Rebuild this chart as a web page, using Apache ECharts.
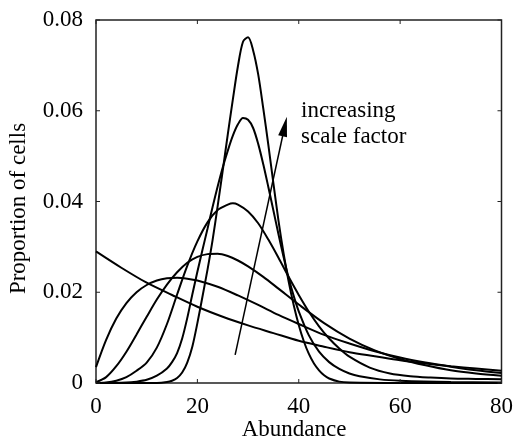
<!DOCTYPE html>
<html>
<head>
<meta charset="utf-8">
<script src="https://cdn.jsdelivr.net/npm/echarts@6/dist/echarts.min.js"></script>
<style>
html,body{margin:0;padding:0;background:#fff;}
#chart{width:516px;height:442px;}
</style>
</head>
<body>
<div id="chart"></div>
<script>
// ---- data ----
const xTicks = [0, 20, 40, 60, 80];
const yTicks = [0, 0.02, 0.04, 0.06, 0.08];

const xA = [0,5,10,15,20,25,30,35,40,45,50,55,60,65,70,75,80];
const yA = [0.0290,0.0254,0.0221,0.0194,0.0168,0.0146,0.0127,0.0110,0.0093,0.0080,0.0068,0.0059,0.0050,0.0043,0.0037,0.0032,0.0027];

const xB = [0,2,4,6,8,10,12,14,16,18,20,24,28,32,36,40,45,50,55,60,65,70,75,80];
const yB = [0.0035,0.0095,0.0142,0.0176,0.0200,0.0216,0.0226,0.0231,0.0232,0.0230,0.0226,0.0212,0.0193,0.0172,0.0150,0.0130,0.0106,0.0087,0.0070,0.0056,0.0045,0.0036,0.0028,0.0022];

const xC = [0,2,4,6,8,10,12,14,16,18,20,22,24,26,28,30,33,36,40,45,50,55,60,65,70,75,80];
const yC = [0.0002,0.0013,0.0037,0.0069,0.0107,0.0146,0.0184,0.0217,0.0244,0.0265,0.0278,0.0284,0.0285,0.0280,0.0270,0.0257,0.0234,0.0208,0.0173,0.0132,0.0098,0.0072,0.0053,0.0039,0.0028,0.0021,0.0016];

const xD = [0,2,4,6,8,10,12,14,16,18,20,22,24,26,27,28,30,32,34,36,38,40,42,44,46,48,50,54,58,62,66,70,75,80];
const yD = [0,0.0001,0.0005,0.0013,0.0027,0.0045,0.0078,0.0130,0.0195,0.0258,0.0312,0.0354,0.0381,0.0393,0.0396,0.0393,0.0378,0.0352,0.0316,0.0276,0.0234,0.0194,0.0157,0.0125,0.0098,0.0076,0.0058,0.0034,0.0021,0.0015,0.0012,0.0010,0.0009,0.0008];

const xE = [0,6,8,10,12,14,15,16,17,18,19,20,21,22,23,24,25,26,27,28,29,30,31,32,33,34,35,36,37,38,39,40,42,44,46,48,50,52,56,60,70,80];
const yE = [0,0.0001,0.0003,0.0007,0.0016,0.0032,0.0046,0.0066,0.0098,0.0143,0.0195,0.0245,0.0293,0.0340,0.0388,0.0433,0.0475,0.0512,0.0545,0.0570,0.0584,0.0580,0.0562,0.0527,0.0482,0.0432,0.0380,0.0328,0.0278,0.0232,0.0192,0.0158,0.0105,0.0069,0.0046,0.0031,0.0021,0.0015,0.0008,0.0005,0.0002,0.0001];

const xF = [0,12,14,15,16,17,18,19,20,21,22,23,24,25,26,27,28,29,30,31,32,33,34,35,36,37,38,39,40,41,42,43,44,45,46,48,50,60,70,80];
const yF = [0,0,0.0002,0.0005,0.0011,0.0023,0.0045,0.0080,0.0132,0.0190,0.0250,0.0315,0.0390,0.0468,0.0548,0.0625,0.0698,0.0752,0.0762,0.0733,0.0680,0.0605,0.0525,0.0440,0.0358,0.0286,0.0224,0.0172,0.0128,0.0092,0.0064,0.0043,0.0028,0.0017,0.0010,0.0003,0.0001,0,0,0];

// annotation arrow (data coordinates: from -> to)
const arrowFrom = [27.45, 0.0062];
const arrowTo = [37.65, 0.0587];

const annotationLines = ['increasing', 'scale factor'];
const xName = 'Abundance';
const yName = 'Proportion of cells';

// ---- chart ----
const FONT = '"Liberation Serif", "Times New Roman", serif';
const pairs = (xs, ys) => xs.map((x, i) => [x, ys[i]]);
const curves = [[xA, yA], [xB, yB], [xC, yC], [xD, yD], [xE, yE], [xF, yF]];
const xMin = xTicks[0], xMax = xTicks[xTicks.length - 1];
const yMin = yTicks[0], yMax = yTicks[yTicks.length - 1];
const TICK = 4;

const chart = echarts.init(document.getElementById('chart'), null, {renderer: 'canvas'});

const labelStyle = {fontFamily: FONT, fontSize: 23, color: '#000'};

function tickSeries(kind) {
  const data = kind === 'x' ? xTicks.map(v => [v, yMin]) : yTicks.map(v => [xMin, v]);
  return {
    type: 'custom', xAxisIndex: 0, yAxisIndex: 0, silent: true, z: 5, clip: false,
    data: data,
    renderItem: function (params, api) {
      const v = api.value(kind === 'x' ? 0 : 1);
      let a, b, lines;
      if (kind === 'x') {
        a = api.coord([v, yMin]); b = api.coord([v, yMax]);
        lines = [[a[0], a[1], a[0], a[1] - TICK], [b[0], b[1], b[0], b[1] + TICK]];
      } else {
        a = api.coord([xMin, v]); b = api.coord([xMax, v]);
        lines = [[a[0], a[1], a[0] + TICK, a[1]], [b[0], b[1], b[0] - TICK, b[1]]];
      }
      return {type: 'group', children: lines.map(l => ({
        type: 'line', shape: {x1: l[0], y1: l[1], x2: l[2], y2: l[3]},
        style: {stroke: '#222', lineWidth: 1}
      }))};
    }
  };
}

const option = {
  animation: false,
  backgroundColor: '#fff',
  grid: {left: 96, top: 20, width: 408, height: 363, containLabel: false,
         show: true, borderColor: '#222', borderWidth: 1.5, backgroundColor: 'transparent'},
  xAxis: {type: 'value', min: xMin, max: xMax, interval: xTicks[1] - xTicks[0],
     position: 'bottom', axisLine: {show: false}, axisTick: {show: false}, splitLine: {show: false},
     axisLabel: Object.assign({margin: 12}, labelStyle)},
  yAxis: {type: 'value', min: yMin, max: yMax, interval: yTicks[1] - yTicks[0],
     position: 'left', axisLine: {show: false}, axisTick: {show: false}, splitLine: {show: false},
     axisLabel: Object.assign({margin: 13, formatter: v => (v === 0 ? '0' : v.toFixed(2))}, labelStyle)},
  series: curves.map(([xs, ys]) => ({
    type: 'line', data: pairs(xs, ys), showSymbol: false, symbol: 'none', smooth: 0.3,
    lineStyle: {color: '#000', width: 2}, silent: true, z: 3
  })).concat([tickSeries('x'), tickSeries('y'), {
    type: 'custom', silent: true, z: 4,
    data: [[arrowFrom[0], arrowFrom[1], arrowTo[0], arrowTo[1]]],
    encode: {x: [0, 2], y: [1, 3]},
    renderItem: function (params, api) {
      const p0 = api.coord([api.value(0), api.value(1)]);
      const p1 = api.coord([api.value(2), api.value(3)]);
      const dx = p1[0] - p0[0], dy = p1[1] - p0[1];
      const len = Math.hypot(dx, dy);
      const ux = dx / len, uy = dy / len;
      const headLen = 20, halfW = 4.5;
      const bx = p1[0] - ux * headLen, by = p1[1] - uy * headLen;
      const nx = -uy, ny = ux;
      return {
        type: 'group',
        children: [
          {type: 'line', shape: {x1: p0[0], y1: p0[1], x2: bx + ux * 2, y2: by + uy * 2},
           style: {stroke: '#000', lineWidth: 1.5}},
          {type: 'polygon', shape: {points: [[p1[0], p1[1]], [bx + nx * halfW, by + ny * halfW], [bx - nx * halfW, by - ny * halfW]]},
           style: {fill: '#000'}}
        ]
      };
    }
  }]),
  graphic: [
    {type: 'text', x: 301, y: 110.5, silent: true,
     style: {text: annotationLines[0], fill: '#000', font: '23px ' + FONT, align: 'left', verticalAlign: 'middle'}},
    {type: 'text', x: 301, y: 137, silent: true,
     style: {text: annotationLines[1], fill: '#000', font: '23px ' + FONT, align: 'left', verticalAlign: 'middle'}},
    {type: 'text', x: 294, y: 429.5, silent: true,
     style: {text: xName, fill: '#000', font: '23px ' + FONT, align: 'center', verticalAlign: 'middle'}},
    {type: 'text', x: 18.5, y: 208.5, rotation: Math.PI / 2, silent: true,
     style: {text: yName, fill: '#000', font: '23px ' + FONT, align: 'center', verticalAlign: 'middle'}}
  ]
};
chart.setOption(option);
</script>
</body>
</html>
